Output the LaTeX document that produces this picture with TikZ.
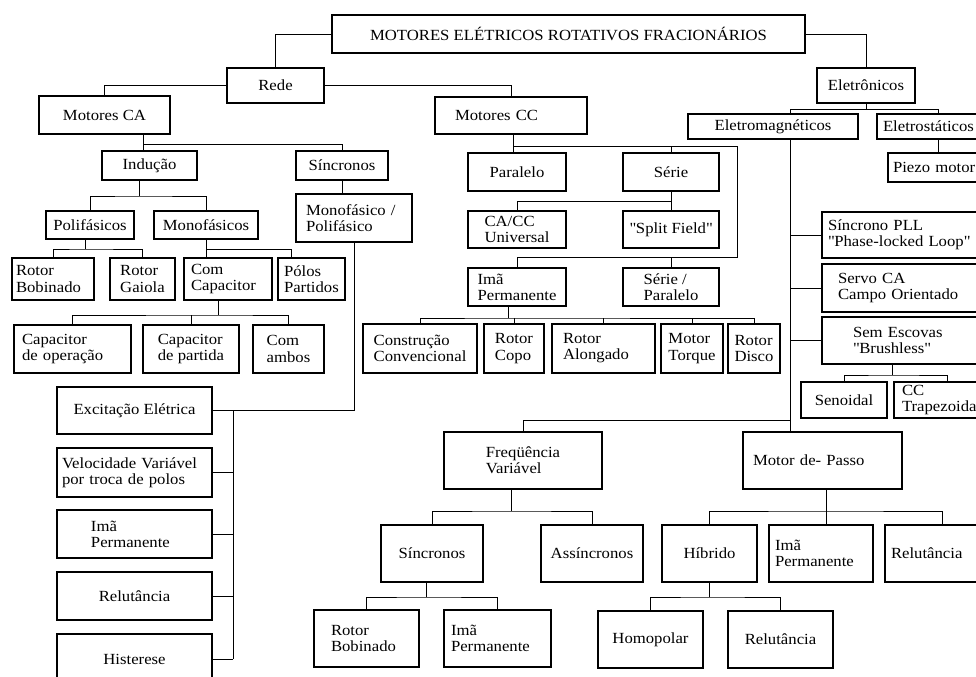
\documentclass[tikz,border=0pt]{standalone}
\usepackage{fontspec}
\setmainfont[FakeStretch=1.08]{Liberation Serif}
\hyphenpenalty=10000
\exhyphenpenalty=10000
\newcommand{\px}{0.025cm}
\newcommand{\aspas}[1]{\textquotedbl#1\textquotedbl}

\begin{document}
\begin{tikzpicture}[x=0.025cm,y=-0.025cm,
    caixa/.style={draw,line width=1.4pt,inner sep=0pt,align=center,font=\fontsize{11}{11.5}\selectfont},
    tam/.style 2 args={minimum width=#1*\px,minimum height=#2*\px},
    esq/.style 2 args={text width=(#1-2*#2)*\px,align=left},
    ramo/.style={line width=0.7pt}]
    \useasboundingbox (0,0) rectangle (976,677);
    \clip (0,0) rectangle (976,677);

    \node[caixa,tam={473}{38}] (titulo) at (568.5,34) {MOTORES ELÉTRICOS ROTATIVOS FRACIONÁRIOS};
    \node[caixa,tam={97}{35}] (rede) at (275.5,85.5) {Rede};
    \node[caixa,tam={98}{35}] (eletron) at (866,85.5) {Eletrônicos};

    % rede
    \node[caixa,tam={131}{38}] (motca) at (104.5,115) {Motores CA};
    \node[caixa,tam={152}{37},esq={152}{20}] (motcc) at (511,115.5) {Motores CC};
    \node[caixa,tam={95}{29}] (inducao) at (149.5,165.5) {Indução};
    \node[caixa,tam={92}{29}] (sincca) at (342,165.5) {Síncronos};
    \node[caixa,tam={88}{28}] (polif) at (90,225) {Polifásicos};
    \node[caixa,tam={104}{28}] (monof) at (206,225) {Monofásicos};
    \node[caixa,tam={116}{48},esq={116}{10}] (monopoli) at (354,218) {Monofásico /\\Polifásico};
    \node[caixa,tam={82}{42},esq={82}{4}] (rotbob) at (53,279) {Rotor\\Bobinado};
    \node[caixa,tam={65}{42},align=left] (rotgai) at (142.5,279) {Rotor\\Gaiola};
    \node[caixa,tam={88}{42},esq={88}{7}] (comcap) at (228,279) {Com\\Capacitor};
    \node[caixa,tam={67}{42},esq={67}{6}] (polos) at (311.5,279) {Pólos\\Partidos};
    \node[caixa,tam={117}{48},esq={117}{8}] (capop) at (72.5,349) {Capacitor\\de operação};
    \node[caixa,tam={96}{48},align=left] (cappart) at (191,349) {Capacitor\\de partida};
    \node[caixa,tam={71}{48},align=left] (comamb) at (288.5,349) {Com\\ambos};

    \node[caixa,tam={155}{47}] (excit) at (134.5,410.5) {Excitação Elétrica};
    \node[caixa,tam={155}{49},esq={155}{5}] (veloc) at (134.5,472.5) {Velocidade Variável\\por troca de polos};
    \node[caixa,tam={155}{48},esq={155}{34}] (imaex) at (134.5,534) {Imã\\Permanente};
    \node[caixa,tam={155}{48}] (relut) at (134.5,596) {Relutância};
    \node[caixa,tam={155}{50}] (hister) at (134.5,659) {Histerese};

    \node[caixa,tam={98}{38}] (paralelo) at (517,172) {Paralelo};
    \node[caixa,tam={96}{38}] (serie) at (671,172) {Série};
    \node[caixa,tam={98}{37},align=left] (univ) at (517,229.5) {CA/CC\\Universal};
    \node[caixa,tam={96}{37}] (split) at (671,229.5) {\aspas{Split Field}};
    \node[caixa,tam={98}{38},align=left] (imacc) at (517,287) {Imã\\Permanente};
    \node[caixa,tam={96}{38},align=left] (serpar) at (671,287) {Série /\\Paralelo};
    \node[caixa,tam={114}{49},align=left] (constr) at (420,348.5) {Construção\\Convencional};
    \node[caixa,tam={60}{49},align=left] (copo) at (514,348.5) {Rotor\\Copo};
    \node[caixa,tam={103}{49},esq={103}{11}] (along) at (603.5,348.5) {Rotor\\Alongado};
    \node[caixa,tam={62}{49},align=left] (torque) at (692,348.5) {Motor\\Torque};
    \node[caixa,tam={52}{49},align=left] (disco) at (754,348.5) {Rotor\\Disco};

    % eletronicos
    \node[caixa,tam={170}{25}] (eletromag) at (773,126.5) {Eletromagnéticos};
    \node[caixa,tam={123}{25},esq={123}{6}] (eletrost) at (938.5,126.5) {Eletrostáticos};
    \node[caixa,tam={112}{29},esq={112}{5}] (piezo) at (944,167.5) {Piezo motor};
    \node[caixa,tam={178}{46},esq={178}{6}] (pll) at (911,235) {Síncrono PLL\\\aspas{Phase-locked Loop}};
    \node[caixa,tam={178}{48},esq={178}{16}] (servo) at (911,288) {Servo CA\\Campo Orientado};
    \node[caixa,tam={178}{47},esq={178}{31}] (semesc) at (911,340.5) {Sem Escovas\\\aspas{Brushless}};
    \node[caixa,tam={86}{36}] (senoidal) at (844,400) {Senoidal};
    \node[caixa,tam={106}{36},esq={106}{8}] (trap) at (947,400) {CC\\Trapezoidal};

    \node[caixa,tam={158}{57},align=left] (freq) at (523,460.5) {Freqüência\\Variável};
    \node[caixa,tam={159}{57},esq={159}{10}] (passo) at (822.5,460.5) {Motor de- Passo};
    \node[caixa,tam={102}{57}] (sincfv) at (432,553.5) {Síncronos};
    \node[caixa,tam={102}{57}] (assinc) at (592,553.5) {Assíncronos};
    \node[caixa,tam={105}{57},esq={105}{17}] (rotbobfv) at (366.5,638.5) {Rotor\\Bobinado};
    \node[caixa,tam={107}{57},esq={107}{7}] (imafv) at (497.5,638.5) {Imã\\Permanente};
    \node[caixa,tam={95}{57}] (hibrido) at (709.5,553.5) {Híbrido};
    \node[caixa,tam={104}{57},esq={104}{6}] (imapasso) at (821,553.5) {Imã\\Permanente};
    \node[caixa,tam={115}{57},esq={115}{6}] (relpasso) at (942.5,553.5) {Relutância};
    \node[caixa,tam={105}{57}] (homop) at (650.5,639.5) {Homopolar};
    \node[caixa,tam={105}{57}] (relhib) at (780.5,639.5) {Relutância};

    % ligacoes
    \coordinate (jca) at (143,144);
    \coordinate (jind) at (139,196);
    \coordinate (jpol) at (85,249);
    \coordinate (jmon) at (206,249);
    \coordinate (kmon) at (291,249);
    \coordinate (jcap) at (218,315);
    \coordinate (jex) at (233,410);
    \coordinate (jcc) at (513,146);
    \coordinate (kcc) at (737,146);
    \coordinate (lcc) at (737,257);
    \coordinate (jser) at (671,201);
    \coordinate (jima) at (508,318);
    \coordinate (kel) at (790,109);
    \coordinate (lel) at (790,420);
    \coordinate (jse) at (892,375);
    \coordinate (jfv) at (511,511);
    \coordinate (jsf) at (426,597);
    \coordinate (jpa) at (826,511);
    \coordinate (jhi) at (710,597);

    \draw[ramo] (titulo.west) -| (rede.north);
    \draw[ramo] (titulo.east) -| (eletron.north);
    \draw[ramo] (rede.west) -| (motca.north);
    \draw[ramo] (rede.east) -| (motcc.north);

    \draw[ramo] (motca.south -| jca) -- (inducao.north -| jca);
    \draw[ramo] (jca) -| (sincca.north);
    \draw[ramo] (inducao.south -| jind) -- (jind);
    \draw[ramo] (polif.north) |- (jind) -| (monof.north);
    \draw[ramo] (sincca.south) -- (sincca.south |- monopoli.north);
    \draw[ramo] (polif.south -| jpol) -- (jpol);
    \draw[ramo] (rotbob.north) |- (jpol) -| (rotgai.north);
    \draw[ramo] (monof.south) -- (monof.south |- comcap.north);
    \draw[ramo] (jmon) -- (kmon) -- (kmon |- polos.north);
    \draw[ramo] (comcap.south -| jcap) -- (jcap);
    \draw[ramo] (capop.north) |- (jcap) -| (comamb.north);
    \draw[ramo] (cappart.north) -- (cappart.north |- jcap);

    \draw[ramo] (monopoli.south) |- (excit.east);
    \draw[ramo] (excit.east -| jex) -- (hister.east -| jex);
    \foreach \n in {veloc,imaex,relut,hister}
        \draw[ramo] (\n.east) -- (\n.east -| jex);

    \draw[ramo] (motcc.south -| jcc) -- (paralelo.north -| jcc);
    \draw[ramo] (jcc) -- (kcc) -- (lcc) -| (imacc.north);
    \draw[ramo] (serie.north) -- (serie.north |- kcc);
    \draw[ramo] (serpar.north) -- (serpar.north |- lcc);
    \draw[ramo] (serie.south) -- (split.north);
    \draw[ramo] (jser) -| (univ.north);
    \draw[ramo] (imacc.south -| jima) -- (jima);
    \draw[ramo] (constr.north) |- (jima) -| (disco.north);
    \foreach \n in {copo,along,torque}
        \draw[ramo] (\n.north) -- (\n.north |- jima);

    \draw[ramo] (eletron.south) -- (eletron.south |- kel);
    \draw[ramo] (kel |- eletromag.north) -- (kel) -| (eletrost.north);
    \draw[ramo] (eletrost.south) -- (eletrost.south |- piezo.north);
    \draw[ramo] (eletromag.south -| kel) -- (passo.north -| kel);
    \foreach \n in {pll,servo,semesc}
        \draw[ramo] (\n.west) -- (\n.west -| kel);
    \draw[ramo] (semesc.south -| jse) -- (jse);
    \draw[ramo] (senoidal.north) |- (jse) -| (trap.north);
    \draw[ramo] (lel) -| (freq.north);

    \draw[ramo] (freq.south -| jfv) -- (jfv);
    \draw[ramo] (sincfv.north) |- (jfv) -| (assinc.north);
    \draw[ramo] (sincfv.south -| jsf) -- (jsf);
    \draw[ramo] (rotbobfv.north) |- (jsf) -| (imafv.north);
    \draw[ramo] (passo.south -| jpa) -- (imapasso.north -| jpa);
    \draw[ramo] (hibrido.north) |- (jpa) -| (relpasso.north);
    \draw[ramo] (hibrido.south) -- (hibrido.south |- jhi);
    \draw[ramo] (homop.north) |- (jhi) -| (relhib.north);
\end{tikzpicture}
\end{document}
